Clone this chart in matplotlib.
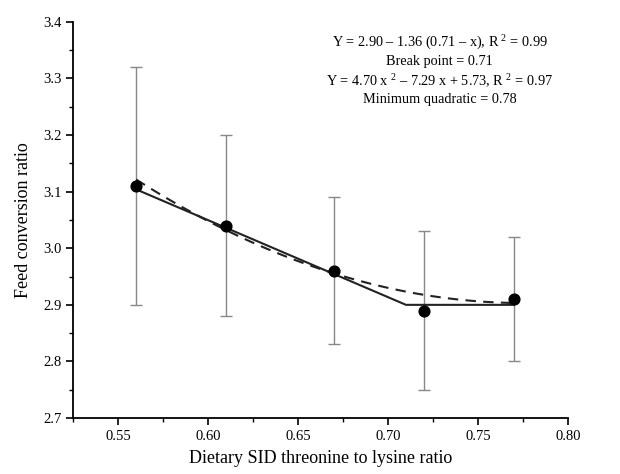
import numpy as np
import matplotlib
matplotlib.use('Agg')
import matplotlib.pyplot as plt
from matplotlib.ticker import MultipleLocator

# 观测数据
ratio = [0.56, 0.61, 0.67, 0.72, 0.77]
fcr = [3.11, 3.04, 2.96, 2.89, 2.91]
err_low = [2.90, 2.88, 2.83, 2.75, 2.80]
err_high = [3.32, 3.20, 3.09, 3.03, 3.02]

# 拟合方程（图中标注的系数）
bl_plateau = 2.90
bl_slope = 1.36
bl_break = 0.71
quad_a, quad_b, quad_c = 4.70, -7.29, 5.73

equations = [
    "Y = 2.90 \u2013 1.36 (0.71 \u2013 x), R$^{\\ 2}$ = 0.99",
    "Break point = 0.71",
    "Y = 4.70 x$^{\\ 2}$ \u2013 7.29 x + 5.73, R$^{\\ 2}$ = 0.97",
    "Minimum quadratic = 0.78",
]

plt.rcParams['font.family'] = ['Liberation Serif', 'DejaVu Serif']
plt.rcParams['mathtext.fontset'] = 'custom'
plt.rcParams['mathtext.rm'] = 'Liberation Serif'

fig = plt.figure(figsize=(6.2, 4.74), dpi=100)
ax = fig.add_axes([0.118, 0.118, 0.798, 0.836])

x = np.array(ratio)
y = np.array(fcr)
yerr = [y - np.array(err_low), np.array(err_high) - y]
ax.errorbar(x, y, yerr=yerr, fmt='none', ecolor='#888888', elinewidth=1.0,
            capsize=4, capthick=1.0, zorder=2)

# 折线模型
xb = np.array([ratio[0], bl_break, ratio[-1]])
yb = bl_plateau + bl_slope * np.clip(bl_break - xb, 0, None)
ax.plot(xb, yb, color='#222222', lw=1.5, zorder=3)

# 二次模型
xq = np.linspace(ratio[0], ratio[-1], 100)
yq = quad_a * xq ** 2 + quad_b * xq + quad_c
ax.plot(xq, yq, color='#222222', lw=1.5, ls=(0, (5, 3.5)), zorder=3)

ax.scatter(x, y, s=60, color='black', zorder=4)

ax.set_xlim(0.525, 0.80)
ax.set_ylim(2.7, 3.4)
ax.xaxis.set_major_locator(MultipleLocator(0.05))
ax.xaxis.set_minor_locator(MultipleLocator(0.025))
ax.yaxis.set_major_locator(MultipleLocator(0.1))
ax.yaxis.set_minor_locator(MultipleLocator(0.05))
ax.xaxis.set_major_formatter(plt.FormatStrFormatter('%.2f'))
ax.yaxis.set_major_formatter(plt.FormatStrFormatter('%.1f'))
ax.tick_params(which='major', direction='out', length=5, width=1.2, labelsize=10.5)
ax.tick_params(which='minor', direction='out', length=3, width=1.0)
for side in ['top', 'right']:
    ax.spines[side].set_visible(False)
for side in ['left', 'bottom']:
    ax.spines[side].set_linewidth(1.3)

ax.set_xlabel("Dietary SID threonine to lysine ratio", fontsize=13, labelpad=5)
ax.set_ylabel("Feed conversion ratio", fontsize=13, labelpad=8)

for txt, yy in zip(equations, [0.949, 0.899, 0.852, 0.803]):
    ax.text(0.741, yy, txt, transform=ax.transAxes, ha='center', va='center',
            fontsize=10.3)

fig.savefig("out.png", dpi=100)
